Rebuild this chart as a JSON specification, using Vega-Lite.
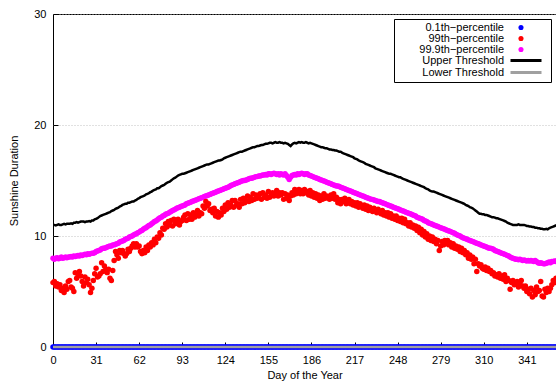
{
"$schema":"https://vega.github.io/schema/vega-lite/v6.json",
"autosize":"none",
"width":503,"height":333,
"padding":{"left":53,"top":14,"right":0,"bottom":34},
"background":"white",
"config":{"font":"Liberation Sans","view":{"stroke":"black","strokeWidth":1},
 "axis":{"labelFont":"Liberation Sans","titleFont":"Liberation Sans","labelFontSize":11,"titleFontSize":11,"titleFontWeight":"normal","labelColor":"black","titleColor":"black","tickColor":"black","domain":false}},
"data":{"values":[
{"d":0,"r":5.8,"m":8.0,"u":11.0,"p":0,"l":0},{"d":1,"r":5.9,"m":7.9,"u":11.0,"p":0,"l":0},{"d":2,"r":5.5,"m":8.0,"u":10.95,"p":0,"l":0},{"d":3,"r":5.7,"m":8.05,"u":11.0,"p":0,"l":0},{"d":4,"r":5.4,"m":7.95,"u":11.05,"p":0,"l":0},{"d":5,"r":5.6,"m":8.0,"u":11.0,"p":0,"l":0},{"d":6,"r":5.1,"m":8.1,"u":11.0,"p":0,"l":0},{"d":7,"r":5.3,"m":8.0,"u":11.05,"p":0,"l":0},{"d":8,"r":4.9,"m":8.05,"u":11.1,"p":0,"l":0},{"d":9,"r":5.5,"m":8.1,"u":11.05,"p":0,"l":0},
{"d":10,"r":5.2,"m":8.05,"u":11.1,"p":0,"l":0},{"d":11,"r":5.9,"m":8.1,"u":11.1,"p":0,"l":0},{"d":12,"r":6.0,"m":8.1,"u":11.1,"p":0,"l":0},{"d":13,"r":5.4,"m":8.15,"u":11.15,"p":0,"l":0},{"d":14,"r":5.3,"m":8.1,"u":11.1,"p":0,"l":0},{"d":15,"r":5.0,"m":8.2,"u":11.2,"p":0,"l":0},{"d":16,"r":6.7,"m":8.15,"u":11.2,"p":0,"l":0},{"d":17,"r":6.2,"m":8.2,"u":11.25,"p":0,"l":0},{"d":18,"r":6.5,"m":8.25,"u":11.2,"p":0,"l":0},{"d":19,"r":6.8,"m":8.2,"u":11.25,"p":0,"l":0},
{"d":20,"r":6.4,"m":8.3,"u":11.3,"p":0,"l":0},{"d":21,"r":5.9,"m":8.25,"u":11.3,"p":0,"l":0},{"d":22,"r":5.5,"m":8.3,"u":11.3,"p":0,"l":0},{"d":23,"r":6.3,"m":8.35,"u":11.25,"p":0,"l":0},{"d":24,"r":5.8,"m":8.3,"u":11.3,"p":0,"l":0},{"d":25,"r":6.1,"m":8.4,"u":11.3,"p":0,"l":0},{"d":26,"r":5.6,"m":8.35,"u":11.35,"p":0,"l":0},{"d":27,"r":4.9,"m":8.4,"u":11.3,"p":0,"l":0},{"d":28,"r":5.3,"m":8.45,"u":11.4,"p":0,"l":0},{"d":29,"r":6.0,"m":8.45,"u":11.4,"p":0,"l":0},
{"d":30,"r":6.6,"m":8.5,"u":11.5,"p":0,"l":0},{"d":31,"r":7.1,"m":8.6,"u":11.55,"p":0,"l":0},{"d":32,"r":6.3,"m":8.65,"u":11.6,"p":0,"l":0},{"d":33,"r":6.4,"m":8.7,"u":11.7,"p":0,"l":0},{"d":34,"r":6.6,"m":8.75,"u":11.8,"p":0,"l":0},{"d":35,"r":7.6,"m":8.85,"u":11.85,"p":0,"l":0},{"d":36,"r":6.8,"m":8.9,"u":11.9,"p":0,"l":0},{"d":37,"r":7.3,"m":8.9,"u":11.95,"p":0,"l":0},{"d":38,"r":7.0,"m":8.95,"u":12.0,"p":0,"l":0},{"d":39,"r":6.7,"m":9.0,"u":12.05,"p":0,"l":0},
{"d":40,"r":7.0,"m":9.05,"u":12.1,"p":0,"l":0},{"d":41,"r":6.2,"m":9.1,"u":12.15,"p":0,"l":0},{"d":42,"r":6.0,"m":9.1,"u":12.25,"p":0,"l":0},{"d":43,"r":6.9,"m":9.2,"u":12.3,"p":0,"l":0},{"d":44,"r":7.8,"m":9.2,"u":12.35,"p":0,"l":0},{"d":45,"r":8.6,"m":9.25,"u":12.45,"p":0,"l":0},{"d":46,"r":8.3,"m":9.3,"u":12.5,"p":0,"l":0},{"d":47,"r":8.0,"m":9.35,"u":12.55,"p":0,"l":0},{"d":48,"r":8.7,"m":9.45,"u":12.65,"p":0,"l":0},{"d":49,"r":8.5,"m":9.5,"u":12.7,"p":0,"l":0},
{"d":50,"r":8.7,"m":9.55,"u":12.8,"p":0,"l":0},{"d":51,"r":8.4,"m":9.6,"u":12.85,"p":0,"l":0},{"d":52,"r":8.2,"m":9.7,"u":12.9,"p":0,"l":0},{"d":53,"r":8.4,"m":9.75,"u":12.9,"p":0,"l":0},{"d":54,"r":8.8,"m":9.8,"u":13.0,"p":0,"l":0},{"d":55,"r":8.6,"m":9.9,"u":13.0,"p":0,"l":0},{"d":56,"r":8.9,"m":9.95,"u":13.05,"p":0,"l":0},{"d":57,"r":9.1,"m":10.0,"u":13.1,"p":0,"l":0},{"d":58,"r":9.3,"m":10.1,"u":13.1,"p":0,"l":0},{"d":59,"r":9.0,"m":10.15,"u":13.2,"p":0,"l":0},
{"d":60,"r":9.3,"m":10.2,"u":13.25,"p":0,"l":0},{"d":61,"r":9.0,"m":10.3,"u":13.35,"p":0,"l":0},{"d":62,"r":9.1,"m":10.35,"u":13.4,"p":0,"l":0},{"d":63,"r":8.6,"m":10.45,"u":13.5,"p":0,"l":0},{"d":64,"r":8.4,"m":10.5,"u":13.55,"p":0,"l":0},{"d":65,"r":8.7,"m":10.6,"u":13.6,"p":0,"l":0},{"d":66,"r":8.5,"m":10.7,"u":13.65,"p":0,"l":0},{"d":67,"r":9.0,"m":10.75,"u":13.75,"p":0,"l":0},{"d":68,"r":8.7,"m":10.85,"u":13.8,"p":0,"l":0},{"d":69,"r":9.2,"m":10.95,"u":13.85,"p":0,"l":0},
{"d":70,"r":9.0,"m":11.0,"u":13.95,"p":0,"l":0},{"d":71,"r":9.4,"m":11.1,"u":14.0,"p":0,"l":0},{"d":72,"r":9.2,"m":11.2,"u":14.1,"p":0,"l":0},{"d":73,"r":9.7,"m":11.3,"u":14.15,"p":0,"l":0},{"d":74,"r":9.4,"m":11.35,"u":14.2,"p":0,"l":0},{"d":75,"r":9.9,"m":11.45,"u":14.3,"p":0,"l":0},{"d":76,"r":9.8,"m":11.55,"u":14.3,"p":0,"l":0},{"d":77,"r":10.3,"m":11.65,"u":14.4,"p":0,"l":0},{"d":78,"r":10.1,"m":11.7,"u":14.5,"p":0,"l":0},{"d":79,"r":10.7,"m":11.8,"u":14.55,"p":0,"l":0},
{"d":80,"r":10.6,"m":11.85,"u":14.6,"p":0,"l":0},{"d":81,"r":11.1,"m":11.95,"u":14.7,"p":0,"l":0},{"d":82,"r":10.8,"m":12.0,"u":14.8,"p":0,"l":0},{"d":83,"r":11.3,"m":12.05,"u":14.85,"p":0,"l":0},{"d":84,"r":11.0,"m":12.15,"u":14.9,"p":0,"l":0},{"d":85,"r":11.4,"m":12.2,"u":15.0,"p":0,"l":0},{"d":86,"r":10.9,"m":12.3,"u":15.1,"p":0,"l":0},{"d":87,"r":11.5,"m":12.35,"u":15.2,"p":0,"l":0},{"d":88,"r":11.1,"m":12.4,"u":15.25,"p":0,"l":0},{"d":89,"r":11.3,"m":12.5,"u":15.35,"p":0,"l":0},
{"d":90,"r":11.5,"m":12.55,"u":15.45,"p":0,"l":0},{"d":91,"r":11.0,"m":12.6,"u":15.5,"p":0,"l":0},{"d":92,"r":11.3,"m":12.65,"u":15.55,"p":0,"l":0},{"d":93,"r":11.4,"m":12.7,"u":15.6,"p":0,"l":0},{"d":94,"r":11.7,"m":12.75,"u":15.6,"p":0,"l":0},{"d":95,"r":11.9,"m":12.8,"u":15.65,"p":0,"l":0},{"d":96,"r":11.4,"m":12.9,"u":15.7,"p":0,"l":0},{"d":97,"r":12.0,"m":12.95,"u":15.75,"p":0,"l":0},{"d":98,"r":11.5,"m":13.0,"u":15.8,"p":0,"l":0},{"d":99,"r":11.9,"m":13.05,"u":15.85,"p":0,"l":0},
{"d":100,"r":11.5,"m":13.1,"u":15.9,"p":0,"l":0},{"d":101,"r":12.1,"m":13.15,"u":15.95,"p":0,"l":0},{"d":102,"r":11.7,"m":13.2,"u":16.0,"p":0,"l":0},{"d":103,"r":11.9,"m":13.25,"u":16.05,"p":0,"l":0},{"d":104,"r":12.3,"m":13.3,"u":16.1,"p":0,"l":0},{"d":105,"r":11.8,"m":13.35,"u":16.15,"p":0,"l":0},{"d":106,"r":12.1,"m":13.4,"u":16.2,"p":0,"l":0},{"d":107,"r":12.0,"m":13.45,"u":16.25,"p":0,"l":0},{"d":108,"r":12.7,"m":13.5,"u":16.3,"p":0,"l":0},{"d":109,"r":12.5,"m":13.55,"u":16.35,"p":0,"l":0},
{"d":110,"r":13.1,"m":13.6,"u":16.4,"p":0,"l":0},{"d":111,"r":12.7,"m":13.65,"u":16.45,"p":0,"l":0},{"d":112,"r":12.9,"m":13.7,"u":16.45,"p":0,"l":0},{"d":113,"r":12.3,"m":13.75,"u":16.5,"p":0,"l":0},{"d":114,"r":12.4,"m":13.8,"u":16.55,"p":0,"l":0},{"d":115,"r":12.1,"m":13.85,"u":16.6,"p":0,"l":0},{"d":116,"r":12.5,"m":13.9,"u":16.65,"p":0,"l":0},{"d":117,"r":11.8,"m":13.95,"u":16.7,"p":0,"l":0},{"d":118,"r":12.2,"m":14.0,"u":16.75,"p":0,"l":0},{"d":119,"r":11.7,"m":14.05,"u":16.8,"p":0,"l":0},
{"d":120,"r":12.1,"m":14.1,"u":16.8,"p":0,"l":0},{"d":121,"r":11.9,"m":14.15,"u":16.85,"p":0,"l":0},{"d":122,"r":12.5,"m":14.2,"u":16.9,"p":0,"l":0},{"d":123,"r":12.2,"m":14.25,"u":17.0,"p":0,"l":0},{"d":124,"r":12.8,"m":14.3,"u":17.05,"p":0,"l":0},{"d":125,"r":12.4,"m":14.35,"u":17.1,"p":0,"l":0},{"d":126,"r":13.0,"m":14.4,"u":17.15,"p":0,"l":0},{"d":127,"r":12.6,"m":14.45,"u":17.2,"p":0,"l":0},{"d":128,"r":12.8,"m":14.55,"u":17.25,"p":0,"l":0},{"d":129,"r":13.2,"m":14.6,"u":17.3,"p":0,"l":0},
{"d":130,"r":12.6,"m":14.65,"u":17.35,"p":0,"l":0},{"d":131,"r":13.2,"m":14.7,"u":17.4,"p":0,"l":0},{"d":132,"r":12.8,"m":14.75,"u":17.45,"p":0,"l":0},{"d":133,"r":12.9,"m":14.8,"u":17.5,"p":0,"l":0},{"d":134,"r":12.6,"m":14.85,"u":17.55,"p":0,"l":0},{"d":135,"r":13.3,"m":14.9,"u":17.6,"p":0,"l":0},{"d":136,"r":12.9,"m":14.95,"u":17.6,"p":0,"l":0},{"d":137,"r":13.4,"m":15.0,"u":17.65,"p":0,"l":0},{"d":138,"r":13.0,"m":15.0,"u":17.7,"p":0,"l":0},{"d":139,"r":13.2,"m":15.05,"u":17.75,"p":0,"l":0},
{"d":140,"r":13.6,"m":15.1,"u":17.8,"p":0,"l":0},{"d":141,"r":13.1,"m":15.15,"u":17.85,"p":0,"l":0},{"d":142,"r":13.5,"m":15.2,"u":17.9,"p":0,"l":0},{"d":143,"r":13.2,"m":15.2,"u":17.95,"p":0,"l":0},{"d":144,"r":13.8,"m":15.25,"u":18.0,"p":0,"l":0},{"d":145,"r":13.3,"m":15.3,"u":18.0,"p":0,"l":0},{"d":146,"r":13.7,"m":15.35,"u":18.05,"p":0,"l":0},{"d":147,"r":13.4,"m":15.35,"u":18.1,"p":0,"l":0},{"d":148,"r":13.5,"m":15.4,"u":18.1,"p":0,"l":0},{"d":149,"r":13.8,"m":15.4,"u":18.15,"p":0,"l":0},
{"d":150,"r":13.3,"m":15.45,"u":18.2,"p":0,"l":0},{"d":151,"r":13.9,"m":15.5,"u":18.2,"p":0,"l":0},{"d":152,"r":13.5,"m":15.5,"u":18.25,"p":0,"l":0},{"d":153,"r":13.7,"m":15.55,"u":18.3,"p":0,"l":0},{"d":154,"r":13.4,"m":15.5,"u":18.3,"p":0,"l":0},{"d":155,"r":14.0,"m":15.6,"u":18.35,"p":0,"l":0},{"d":156,"r":13.5,"m":15.6,"u":18.4,"p":0,"l":0},{"d":157,"r":13.8,"m":15.55,"u":18.4,"p":0,"l":0},{"d":158,"r":13.9,"m":15.6,"u":18.35,"p":0,"l":0},{"d":159,"r":13.6,"m":15.65,"u":18.4,"p":0,"l":0},
{"d":160,"r":13.8,"m":15.6,"u":18.45,"p":0,"l":0},{"d":161,"r":14.1,"m":15.55,"u":18.4,"p":0,"l":0},{"d":162,"r":13.6,"m":15.6,"u":18.4,"p":0,"l":0},{"d":163,"r":13.9,"m":15.5,"u":18.45,"p":0,"l":0},{"d":164,"r":13.7,"m":15.6,"u":18.4,"p":0,"l":0},{"d":165,"r":13.9,"m":15.55,"u":18.4,"p":0,"l":0},{"d":166,"r":13.3,"m":15.5,"u":18.35,"p":0,"l":0},{"d":167,"r":13.8,"m":15.6,"u":18.4,"p":0,"l":0},{"d":168,"r":13.4,"m":15.45,"u":18.35,"p":0,"l":0},{"d":169,"r":13.7,"m":15.3,"u":18.3,"p":0,"l":0},
{"d":170,"r":13.2,"m":15.1,"u":18.2,"p":0,"l":0},{"d":171,"r":13.6,"m":15.3,"u":18.1,"p":0,"l":0},{"d":172,"r":13.9,"m":15.45,"u":18.25,"p":0,"l":0},{"d":173,"r":13.7,"m":15.5,"u":18.35,"p":0,"l":0},{"d":174,"r":14.2,"m":15.55,"u":18.4,"p":0,"l":0},{"d":175,"r":13.8,"m":15.5,"u":18.35,"p":0,"l":0},{"d":176,"r":14.0,"m":15.6,"u":18.4,"p":0,"l":0},{"d":177,"r":14.2,"m":15.55,"u":18.45,"p":0,"l":0},{"d":178,"r":13.8,"m":15.6,"u":18.4,"p":0,"l":0},{"d":179,"r":14.1,"m":15.65,"u":18.45,"p":0,"l":0},
{"d":180,"r":13.8,"m":15.6,"u":18.4,"p":0,"l":0},{"d":181,"r":14.2,"m":15.55,"u":18.4,"p":0,"l":0},{"d":182,"r":13.9,"m":15.6,"u":18.45,"p":0,"l":0},{"d":183,"r":14.0,"m":15.6,"u":18.4,"p":0,"l":0},{"d":184,"r":13.7,"m":15.5,"u":18.35,"p":0,"l":0},{"d":185,"r":14.1,"m":15.45,"u":18.4,"p":0,"l":0},{"d":186,"r":13.6,"m":15.4,"u":18.35,"p":0,"l":0},{"d":187,"r":13.9,"m":15.35,"u":18.3,"p":0,"l":0},{"d":188,"r":13.5,"m":15.3,"u":18.25,"p":0,"l":0},{"d":189,"r":13.8,"m":15.25,"u":18.2,"p":0,"l":0},
{"d":190,"r":13.4,"m":15.2,"u":18.15,"p":0,"l":0},{"d":191,"r":13.7,"m":15.15,"u":18.1,"p":0,"l":0},{"d":192,"r":13.2,"m":15.1,"u":18.05,"p":0,"l":0},{"d":193,"r":13.6,"m":15.05,"u":18.0,"p":0,"l":0},{"d":194,"r":13.3,"m":15.0,"u":18.0,"p":0,"l":0},{"d":195,"r":13.8,"m":14.95,"u":17.95,"p":0,"l":0},{"d":196,"r":13.4,"m":14.9,"u":17.9,"p":0,"l":0},{"d":197,"r":13.6,"m":14.85,"u":17.9,"p":0,"l":0},{"d":198,"r":13.5,"m":14.8,"u":17.85,"p":0,"l":0},{"d":199,"r":13.3,"m":14.75,"u":17.8,"p":0,"l":0},
{"d":200,"r":13.7,"m":14.7,"u":17.8,"p":0,"l":0},{"d":201,"r":13.4,"m":14.65,"u":17.75,"p":0,"l":0},{"d":202,"r":13.8,"m":14.6,"u":17.75,"p":0,"l":0},{"d":203,"r":13.3,"m":14.55,"u":17.7,"p":0,"l":0},{"d":204,"r":13.5,"m":14.5,"u":17.7,"p":0,"l":0},{"d":205,"r":13.0,"m":14.5,"u":17.65,"p":0,"l":0},{"d":206,"r":13.3,"m":14.45,"u":17.6,"p":0,"l":0},{"d":207,"r":12.9,"m":14.4,"u":17.6,"p":0,"l":0},{"d":208,"r":13.3,"m":14.35,"u":17.5,"p":0,"l":0},{"d":209,"r":13.1,"m":14.3,"u":17.45,"p":0,"l":0},
{"d":210,"r":13.4,"m":14.25,"u":17.4,"p":0,"l":0},{"d":211,"r":12.9,"m":14.2,"u":17.35,"p":0,"l":0},{"d":212,"r":13.2,"m":14.15,"u":17.3,"p":0,"l":0},{"d":213,"r":13.3,"m":14.1,"u":17.25,"p":0,"l":0},{"d":214,"r":12.9,"m":14.05,"u":17.2,"p":0,"l":0},{"d":215,"r":13.1,"m":14.0,"u":17.15,"p":0,"l":0},{"d":216,"r":12.8,"m":13.95,"u":17.1,"p":0,"l":0},{"d":217,"r":13.0,"m":13.9,"u":17.0,"p":0,"l":0},{"d":218,"r":12.7,"m":13.85,"u":16.95,"p":0,"l":0},{"d":219,"r":13.0,"m":13.8,"u":16.9,"p":0,"l":0},
{"d":220,"r":12.6,"m":13.75,"u":16.8,"p":0,"l":0},{"d":221,"r":12.9,"m":13.7,"u":16.75,"p":0,"l":0},{"d":222,"r":12.7,"m":13.65,"u":16.7,"p":0,"l":0},{"d":223,"r":12.5,"m":13.6,"u":16.65,"p":0,"l":0},{"d":224,"r":12.8,"m":13.55,"u":16.6,"p":0,"l":0},{"d":225,"r":12.4,"m":13.5,"u":16.5,"p":0,"l":0},{"d":226,"r":12.7,"m":13.45,"u":16.45,"p":0,"l":0},{"d":227,"r":12.3,"m":13.4,"u":16.4,"p":0,"l":0},{"d":228,"r":12.6,"m":13.35,"u":16.35,"p":0,"l":0},{"d":229,"r":12.4,"m":13.3,"u":16.3,"p":0,"l":0},
{"d":230,"r":12.2,"m":13.3,"u":16.25,"p":0,"l":0},{"d":231,"r":12.5,"m":13.25,"u":16.2,"p":0,"l":0},{"d":232,"r":12.3,"m":13.2,"u":16.1,"p":0,"l":0},{"d":233,"r":12.1,"m":13.15,"u":16.05,"p":0,"l":0},{"d":234,"r":12.4,"m":13.1,"u":16.0,"p":0,"l":0},{"d":235,"r":12.2,"m":13.1,"u":15.95,"p":0,"l":0},{"d":236,"r":12.0,"m":13.05,"u":15.9,"p":0,"l":0},{"d":237,"r":12.3,"m":13.0,"u":15.85,"p":0,"l":0},{"d":238,"r":11.9,"m":12.95,"u":15.8,"p":0,"l":0},{"d":239,"r":12.1,"m":12.9,"u":15.75,"p":0,"l":0},
{"d":240,"r":11.8,"m":12.85,"u":15.7,"p":0,"l":0},{"d":241,"r":12.1,"m":12.8,"u":15.65,"p":0,"l":0},{"d":242,"r":11.7,"m":12.75,"u":15.6,"p":0,"l":0},{"d":243,"r":12.0,"m":12.7,"u":15.6,"p":0,"l":0},{"d":244,"r":11.6,"m":12.65,"u":15.55,"p":0,"l":0},{"d":245,"r":11.8,"m":12.6,"u":15.5,"p":0,"l":0},{"d":246,"r":11.5,"m":12.55,"u":15.45,"p":0,"l":0},{"d":247,"r":11.8,"m":12.5,"u":15.4,"p":0,"l":0},{"d":248,"r":11.4,"m":12.45,"u":15.35,"p":0,"l":0},{"d":249,"r":11.6,"m":12.4,"u":15.3,"p":0,"l":0},
{"d":250,"r":11.3,"m":12.35,"u":15.3,"p":0,"l":0},{"d":251,"r":11.6,"m":12.3,"u":15.2,"p":0,"l":0},{"d":252,"r":11.2,"m":12.25,"u":15.15,"p":0,"l":0},{"d":253,"r":11.5,"m":12.2,"u":15.1,"p":0,"l":0},{"d":254,"r":11.1,"m":12.15,"u":15.05,"p":0,"l":0},{"d":255,"r":11.2,"m":12.1,"u":15.0,"p":0,"l":0},{"d":256,"r":10.9,"m":12.05,"u":14.95,"p":0,"l":0},{"d":257,"r":11.2,"m":12.0,"u":14.9,"p":0,"l":0},{"d":258,"r":10.8,"m":11.95,"u":14.85,"p":0,"l":0},{"d":259,"r":11.0,"m":11.9,"u":14.8,"p":0,"l":0},
{"d":260,"r":10.7,"m":11.85,"u":14.75,"p":0,"l":0},{"d":261,"r":10.9,"m":11.8,"u":14.7,"p":0,"l":0},{"d":262,"r":10.5,"m":11.7,"u":14.65,"p":0,"l":0},{"d":263,"r":10.8,"m":11.65,"u":14.6,"p":0,"l":0},{"d":264,"r":10.3,"m":11.6,"u":14.55,"p":0,"l":0},{"d":265,"r":10.6,"m":11.55,"u":14.5,"p":0,"l":0},{"d":266,"r":10.1,"m":11.5,"u":14.45,"p":0,"l":0},{"d":267,"r":10.4,"m":11.4,"u":14.4,"p":0,"l":0},{"d":268,"r":9.9,"m":11.35,"u":14.3,"p":0,"l":0},{"d":269,"r":10.2,"m":11.3,"u":14.25,"p":0,"l":0},
{"d":270,"r":9.7,"m":11.2,"u":14.2,"p":0,"l":0},{"d":271,"r":10.0,"m":11.15,"u":14.1,"p":0,"l":0},{"d":272,"r":9.6,"m":11.1,"u":14.05,"p":0,"l":0},{"d":273,"r":9.9,"m":11.05,"u":14.0,"p":0,"l":0},{"d":274,"r":9.5,"m":11.0,"u":14.0,"p":0,"l":0},{"d":275,"r":9.7,"m":10.95,"u":13.95,"p":0,"l":0},{"d":276,"r":9.3,"m":10.9,"u":13.9,"p":0,"l":0},{"d":277,"r":9.6,"m":10.85,"u":13.85,"p":0,"l":0},{"d":278,"r":8.7,"m":10.8,"u":13.8,"p":0,"l":0},{"d":279,"r":9.1,"m":10.75,"u":13.75,"p":0,"l":0},
{"d":280,"r":9.5,"m":10.7,"u":13.7,"p":0,"l":0},{"d":281,"r":9.2,"m":10.65,"u":13.65,"p":0,"l":0},{"d":282,"r":9.6,"m":10.6,"u":13.6,"p":0,"l":0},{"d":283,"r":9.3,"m":10.55,"u":13.55,"p":0,"l":0},{"d":284,"r":9.6,"m":10.5,"u":13.5,"p":0,"l":0},{"d":285,"r":9.2,"m":10.45,"u":13.45,"p":0,"l":0},{"d":286,"r":9.4,"m":10.4,"u":13.4,"p":0,"l":0},{"d":287,"r":9.0,"m":10.35,"u":13.35,"p":0,"l":0},{"d":288,"r":9.3,"m":10.3,"u":13.3,"p":0,"l":0},{"d":289,"r":8.9,"m":10.25,"u":13.25,"p":0,"l":0},
{"d":290,"r":9.1,"m":10.15,"u":13.2,"p":0,"l":0},{"d":291,"r":8.8,"m":10.1,"u":13.15,"p":0,"l":0},{"d":292,"r":9.0,"m":10.05,"u":13.1,"p":0,"l":0},{"d":293,"r":8.6,"m":10.0,"u":13.05,"p":0,"l":0},{"d":294,"r":8.9,"m":9.9,"u":13.0,"p":0,"l":0},{"d":295,"r":8.5,"m":9.85,"u":12.95,"p":0,"l":0},{"d":296,"r":8.7,"m":9.8,"u":12.9,"p":0,"l":0},{"d":297,"r":8.3,"m":9.75,"u":12.8,"p":0,"l":0},{"d":298,"r":8.5,"m":9.7,"u":12.75,"p":0,"l":0},{"d":299,"r":8.0,"m":9.65,"u":12.7,"p":0,"l":0},
{"d":300,"r":8.3,"m":9.6,"u":12.6,"p":0,"l":0},{"d":301,"r":7.9,"m":9.55,"u":12.55,"p":0,"l":0},{"d":302,"r":8.1,"m":9.5,"u":12.5,"p":0,"l":0},{"d":303,"r":7.5,"m":9.45,"u":12.4,"p":0,"l":0},{"d":304,"r":7.9,"m":9.4,"u":12.3,"p":0,"l":0},{"d":305,"r":6.8,"m":9.35,"u":12.2,"p":0,"l":0},{"d":306,"r":7.5,"m":9.3,"u":12.1,"p":0,"l":0},{"d":307,"r":7.3,"m":9.25,"u":12.0,"p":0,"l":0},{"d":308,"r":7.4,"m":9.2,"u":12.0,"p":0,"l":0},{"d":309,"r":7.1,"m":9.15,"u":11.95,"p":0,"l":0},
{"d":310,"r":7.0,"m":9.1,"u":11.95,"p":0,"l":0},{"d":311,"r":7.2,"m":9.05,"u":11.9,"p":0,"l":0},{"d":312,"r":6.9,"m":9.0,"u":11.9,"p":0,"l":0},{"d":313,"r":7.1,"m":8.95,"u":11.85,"p":0,"l":0},{"d":314,"r":6.8,"m":8.9,"u":11.8,"p":0,"l":0},{"d":315,"r":6.9,"m":8.9,"u":11.75,"p":0,"l":0},{"d":316,"r":6.6,"m":8.85,"u":11.7,"p":0,"l":0},{"d":317,"r":6.7,"m":8.8,"u":11.7,"p":0,"l":0},{"d":318,"r":6.4,"m":8.7,"u":11.65,"p":0,"l":0},{"d":319,"r":6.5,"m":8.65,"u":11.6,"p":0,"l":0},
{"d":320,"r":6.3,"m":8.6,"u":11.6,"p":0,"l":0},{"d":321,"r":6.6,"m":8.55,"u":11.55,"p":0,"l":0},{"d":322,"r":6.2,"m":8.5,"u":11.5,"p":0,"l":0},{"d":323,"r":6.4,"m":8.45,"u":11.45,"p":0,"l":0},{"d":324,"r":6.1,"m":8.4,"u":11.4,"p":0,"l":0},{"d":325,"r":6.5,"m":8.35,"u":11.35,"p":0,"l":0},{"d":326,"r":5.9,"m":8.3,"u":11.3,"p":0,"l":0},{"d":327,"r":6.2,"m":8.25,"u":11.2,"p":0,"l":0},{"d":328,"r":6.0,"m":8.2,"u":11.15,"p":0,"l":0},{"d":329,"r":5.2,"m":8.1,"u":11.1,"p":0,"l":0},
{"d":330,"r":5.8,"m":8.05,"u":11.05,"p":0,"l":0},{"d":331,"r":6.0,"m":8.0,"u":11.0,"p":0,"l":0},{"d":332,"r":5.6,"m":7.95,"u":11.0,"p":0,"l":0},{"d":333,"r":5.7,"m":7.9,"u":11.0,"p":0,"l":0},{"d":334,"r":5.9,"m":7.9,"u":11.0,"p":0,"l":0},{"d":335,"r":5.4,"m":7.85,"u":11.05,"p":0,"l":0},{"d":336,"r":5.7,"m":7.9,"u":11.0,"p":0,"l":0},{"d":337,"r":6.0,"m":7.85,"u":11.0,"p":0,"l":0},{"d":338,"r":5.5,"m":7.8,"u":11.0,"p":0,"l":0},{"d":339,"r":5.3,"m":7.85,"u":11.0,"p":0,"l":0},
{"d":340,"r":5.5,"m":7.8,"u":10.95,"p":0,"l":0},{"d":341,"r":5.0,"m":7.75,"u":10.9,"p":0,"l":0},{"d":342,"r":5.2,"m":7.8,"u":10.9,"p":0,"l":0},{"d":343,"r":4.8,"m":7.75,"u":10.85,"p":0,"l":0},{"d":344,"r":5.3,"m":7.8,"u":10.85,"p":0,"l":0},{"d":345,"r":4.5,"m":7.75,"u":10.8,"p":0,"l":0},{"d":346,"r":5.1,"m":7.7,"u":10.8,"p":0,"l":0},{"d":347,"r":4.7,"m":7.8,"u":10.75,"p":0,"l":0},{"d":348,"r":5.4,"m":7.7,"u":10.75,"p":0,"l":0},{"d":349,"r":5.0,"m":7.6,"u":10.7,"p":0,"l":0},
{"d":350,"r":5.1,"m":7.55,"u":10.7,"p":0,"l":0},{"d":351,"r":5.9,"m":7.6,"u":10.65,"p":0,"l":0},{"d":352,"r":4.6,"m":7.55,"u":10.65,"p":0,"l":0},{"d":353,"r":4.5,"m":7.5,"u":10.6,"p":0,"l":0},{"d":354,"r":5.2,"m":7.5,"u":10.6,"p":0,"l":0},{"d":355,"r":4.9,"m":7.55,"u":10.65,"p":0,"l":0},{"d":356,"r":5.3,"m":7.6,"u":10.6,"p":0,"l":0},{"d":357,"r":5.0,"m":7.65,"u":10.7,"p":0,"l":0},{"d":358,"r":5.3,"m":7.6,"u":10.75,"p":0,"l":0},{"d":359,"r":5.6,"m":7.7,"u":10.8,"p":0,"l":0},
{"d":360,"r":6.0,"m":7.7,"u":10.85,"p":0,"l":0},{"d":361,"r":5.8,"m":7.75,"u":10.9,"p":0,"l":0},{"d":362,"r":6.2,"m":7.7,"u":10.95,"p":0,"l":0},{"d":363,"r":6.0,"m":7.8,"u":11.0,"p":0,"l":0},{"d":364,"r":5.9,"m":7.75,"u":11.0,"p":0,"l":0},{"d":365,"r":6.1,"m":7.8,"u":11.0,"p":0,"l":0}
]},
"encoding":{
 "x":{"field":"d","type":"quantitative","title":"Day of the Year","scale":{"domain":[0,362],"nice":false,"zero":false},
  "axis":{"values":[0,31,62,93,124,155,186,217,248,279,310,341],"grid":false,"tickSize":-5,"labelPadding":12,"titlePadding":4,"labelFlush":false}},
 "y":{"field":"v","type":"quantitative","title":"Sunshine Duration","scale":{"domain":[0,30],"nice":false},
  "axis":{"values":[0,10,20,30],"grid":true,"gridColor":"#b4b4b4","gridDash":[1,2],"gridWidth":0.8,"tickSize":-5,"labelPadding":12,"titlePadding":14,"labelFlush":false}},
 "color":{"field":"s","type":"nominal","scale":{"domain":["p","r","m","u","l"],"range":["#0000ff","#ff0000","#ff00ff","#000000","#a0a0a0"]},
  "legend":{"title":null,"orient":"top-right","offset":5,"strokeColor":"black","fillColor":"white","padding":3,"rowPadding":-1.5,"symbolSize":30,"labelFontSize":11,"labelFont":"Liberation Sans","labelColor":"black","labelLimit":300,
   "labelExpr":"(datum.value=='p' ? '0.1th−percentile' : datum.value=='r' ? '99th−percentile' : datum.value=='m' ? '99.9th−percentile' : datum.value=='u' ? 'Upper Threshold' : 'Lower Threshold')",
   "encode":{
    "symbols":{"update":{
      "shape":{"signal":"(datum.value=='u'||datum.value=='l') ? 'stroke' : 'circle'"},
      "size":{"signal":"(datum.value=='u'||datum.value=='l') ? 961 : 26"},
      "x":{"signal":"(datum.value=='u'||datum.value=='l') ? 129 : 124"},
      "strokeWidth":{"signal":"(datum.value=='u'||datum.value=='l') ? 3 : 0"},
      "stroke":{"signal":"scale('color', datum.value)"},
      "fill":{"signal":"scale('color', datum.value)"}}},
    "labels":{"update":{"align":{"value":"right"},"x":{"value":107}}}}}}
},
"layer":[
 {"transform":[{"fold":["p","r","m"],"as":["s","v"]}],
  "mark":{"type":"point","filled":true,"size":30,"opacity":1}},
 {"transform":[{"fold":["u","l"],"as":["s","v"]}],
  "mark":{"type":"line","strokeWidth":2.5}}
]
}
